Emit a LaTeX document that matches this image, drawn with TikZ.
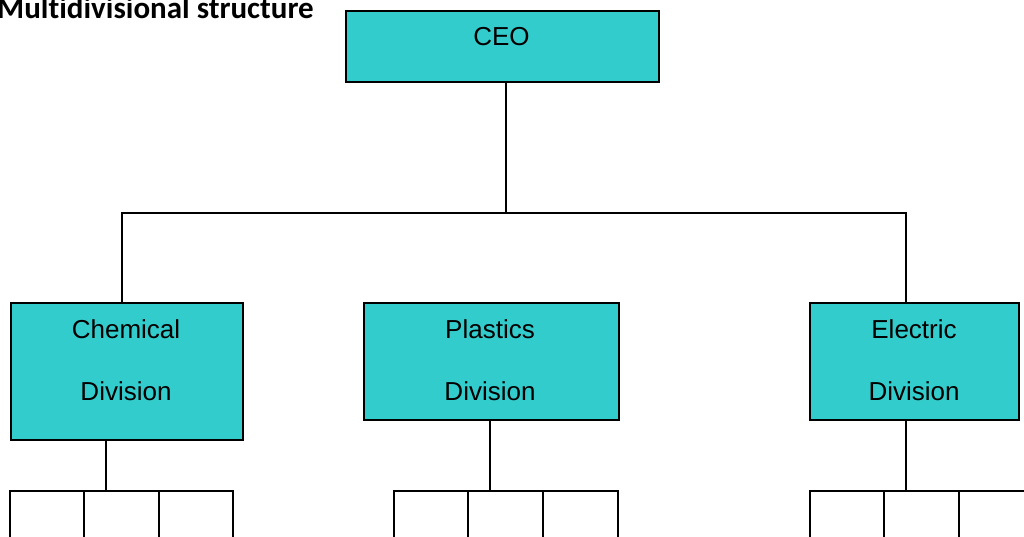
\documentclass[tikz,border=0pt]{standalone}
\usepackage{fontspec}
\setmainfont{Liberation Sans}
\newfontfamily\titlefont[Ligatures=NoCommon]{Carlito}
\definecolor{boxteal}{HTML}{33CCCC}
\begin{document}
\begin{tikzpicture}[x=1pt,y=-1pt,
  box/.style={draw=black, line width=2pt, fill=boxteal, inner sep=0pt, anchor=north west},
  lbl/.style={font=\fontsize{26}{62}\selectfont, align=center, inner sep=0pt},
  conn/.style={draw=black, line width=2pt, line join=miter}]
\useasboundingbox (0,0) rectangle (1024,537);
\clip (0,0) rectangle (1024,537);
\node[anchor=base west, inner sep=0pt, font=\titlefont\bfseries\fontsize{31}{36}\selectfont] (title) at (-3,19) {Multidivisional structure};
% boxes
\node[box, minimum width=313pt, minimum height=71pt] (ceo) at (345,10) {};
\node[box, minimum width=232pt, minimum height=137pt] (chem) at (10,302) {};
\node[box, minimum width=255pt, minimum height=117pt] (plas) at (363,302) {};
\node[box, minimum width=209pt, minimum height=117pt] (elec) at (809,302) {};
% labels
\node[lbl] (ceoT) at (501.5,37) {CEO};
\node[lbl] (chemT) at (126,360) {Chemical\\Division};
\node[lbl] (plasT) at (490,360) {Plastics\\Division};
\node[lbl] (elecT) at (914,360) {Electric\\Division};
% top connectors
\coordinate (trunk) at (506,213);
\coordinate (hL) at (122,213);
\coordinate (hR) at (906,213);
\draw[conn] (ceo.south -| trunk) -- (trunk);
\draw[conn] (chem.north -| hL) -- (hL) -- (hR) -- (elec.north -| hR);
% chemical subtree
\coordinate (cA) at (10,491); \coordinate (cB) at (84,491);
\coordinate (cC) at (159,491); \coordinate (cD) at (233,491);
\coordinate (cM) at (106,491);
\draw[conn] (chem.south -| cM) -- (cM);
\draw[conn] (cA |- 0,545) -- (cA) -- (cD) -- (cD |- 0,545);
\draw[conn] (cB) -- (cB |- 0,545);
\draw[conn] (cC) -- (cC |- 0,545);
% plastics subtree
\coordinate (pA) at (394,491); \coordinate (pB) at (468,491);
\coordinate (pC) at (543,491); \coordinate (pD) at (618,491);
\coordinate (pM) at (490,491);
\draw[conn] (plas.south -| pM) -- (pM);
\draw[conn] (pA |- 0,545) -- (pA) -- (pD) -- (pD |- 0,545);
\draw[conn] (pB) -- (pB |- 0,545);
\draw[conn] (pC) -- (pC |- 0,545);
% electric subtree
\coordinate (eA) at (810,491); \coordinate (eB) at (884,491);
\coordinate (eC) at (959,491); \coordinate (eD) at (1034,491);
\coordinate (eM) at (906,491);
\draw[conn] (elec.south -| eM) -- (eM);
\draw[conn] (eA |- 0,545) -- (eA) -- (eD) -- (eD |- 0,545);
\draw[conn] (eB) -- (eB |- 0,545);
\draw[conn] (eC) -- (eC |- 0,545);
\end{tikzpicture}
\end{document}
